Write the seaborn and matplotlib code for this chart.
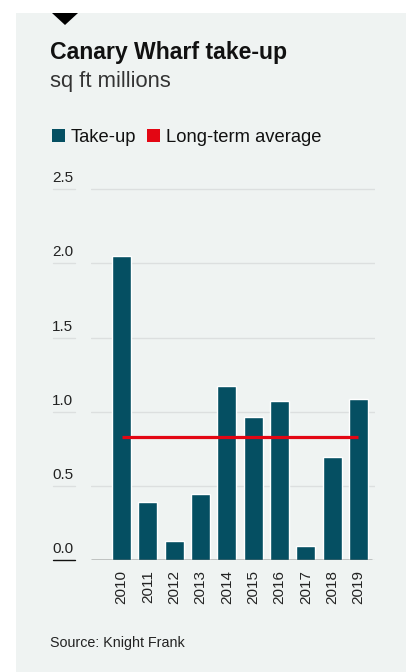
import matplotlib
matplotlib.use("Agg")
import matplotlib.pyplot as plt
import matplotlib.transforms as mtransforms
from matplotlib.patches import Rectangle, Polygon
import pandas as pd
import seaborn as sns

# -------------------------
# Data
# -------------------------
years = ["2010", "2011", "2012", "2013", "2014",
         "2015", "2016", "2017", "2018", "2019"]
take_up = [2.05, 0.39, 0.13, 0.445, 1.17, 0.965, 1.07, 0.095, 0.695, 1.085]
long_term_avg = 0.83
y_ticks = [0.0, 0.5, 1.0, 1.5, 2.0, 2.5]
y_tick_labels = ["0.0", "0.5", "1.0", "1.5", "2.0", "2.5"]

TEAL = "#054f62"
RED = "#e30613"
PANEL = "#eff3f2"
GRID = "#dcdfdf"

W, H = 407, 672


def fy(px):
    # pixel row from top -> figure fraction
    return 1 - px / H


def fx(px):
    return px / W


sns.set_style("white")
plt.rcParams["font.family"] = ["Liberation Sans", "DejaVu Sans"]

fig = plt.figure(figsize=(W / 100, H / 100), dpi=100, facecolor="white")

# -------------------------
# Panel and header
# -------------------------
fig.patches.append(Rectangle((fx(16), 0), fx(406) - fx(16), fy(13),
                             transform=fig.transFigure, facecolor=PANEL,
                             edgecolor="none", zorder=-10))
fig.patches.append(Polygon([[fx(52), fy(13)], [fx(78), fy(13)], [fx(65), fy(25)]],
                           closed=True, transform=fig.transFigure,
                           facecolor="black", edgecolor="none"))

fig.text(fx(50), fy(59), "Canary Wharf take-up", fontsize=16.6,
         fontweight="bold", color="#111111", va="baseline")
fig.text(fx(50), fy(87), "sq ft millions", fontsize=15.8,
         color="#333333", va="baseline")

# legend
fig.patches.append(Rectangle((fx(52), fy(142)), fx(13), 13 / H,
                             transform=fig.transFigure, facecolor=TEAL,
                             edgecolor="none"))
fig.text(fx(70.5), fy(141.5), "Take-up", fontsize=13.2, color="#111111",
         va="baseline")
fig.patches.append(Rectangle((fx(147), fy(142)), fx(13), 13 / H,
                             transform=fig.transFigure, facecolor=RED,
                             edgecolor="none"))
fig.text(fx(166.5), fy(141.5), "Long-term average", fontsize=13.2,
         color="#111111", va="baseline")

fig.text(fx(50), fy(647), "Source: Knight Frank", fontsize=10.3,
         color="#222222", va="baseline")

# -------------------------
# Bars
# -------------------------
ymax = 2.6
px_per_unit = 148.3
ax = fig.add_axes([fx(91), fy(560), fx(375) - fx(91), ymax * px_per_unit / H])
ax.set_facecolor("none")

df = pd.DataFrame({"year": years, "take_up": take_up})
sns.barplot(data=df, x="year", y="take_up", color=TEAL, saturation=1,
            width=0.72, ax=ax, zorder=3)

ax.hlines(long_term_avg, 0, len(years) - 1, color=RED, linewidth=2.3, zorder=4)

ax.set_xlim(-1.16, 9.63)
ax.set_ylim(0, ymax)
ax.set_yticks(y_ticks)
ax.grid(axis="y", color=GRID, linewidth=1.0, zorder=0)
ax.hlines(0, -1.16, 9.5, color="#111111", linewidth=1.0, zorder=5)
ax.tick_params(axis="y", length=0, labelleft=False)
ax.tick_params(axis="x", length=0, pad=7.5, labelsize=11,
               labelcolor="#222222")
plt.setp(ax.get_xticklabels(), rotation=90)
ax.set_xlabel("")
ax.set_ylabel("")
for s in ax.spines.values():
    s.set_visible(False)

# y tick labels sit above a short rule left of the plot
trans = mtransforms.blended_transform_factory(fig.transFigure, ax.transData)
for val, lab in zip(y_ticks, y_tick_labels):
    ax.text(fx(52), val + 4 / px_per_unit, lab, transform=trans, fontsize=11,
            color="#222222", va="bottom", ha="left", clip_on=False)
    ax.plot([fx(52.5), fx(74.5)], [val, val], transform=trans, clip_on=False,
            color="#111111" if val == 0 else GRID, linewidth=1.0)

fig.savefig("out.png", dpi=100, facecolor="white")
